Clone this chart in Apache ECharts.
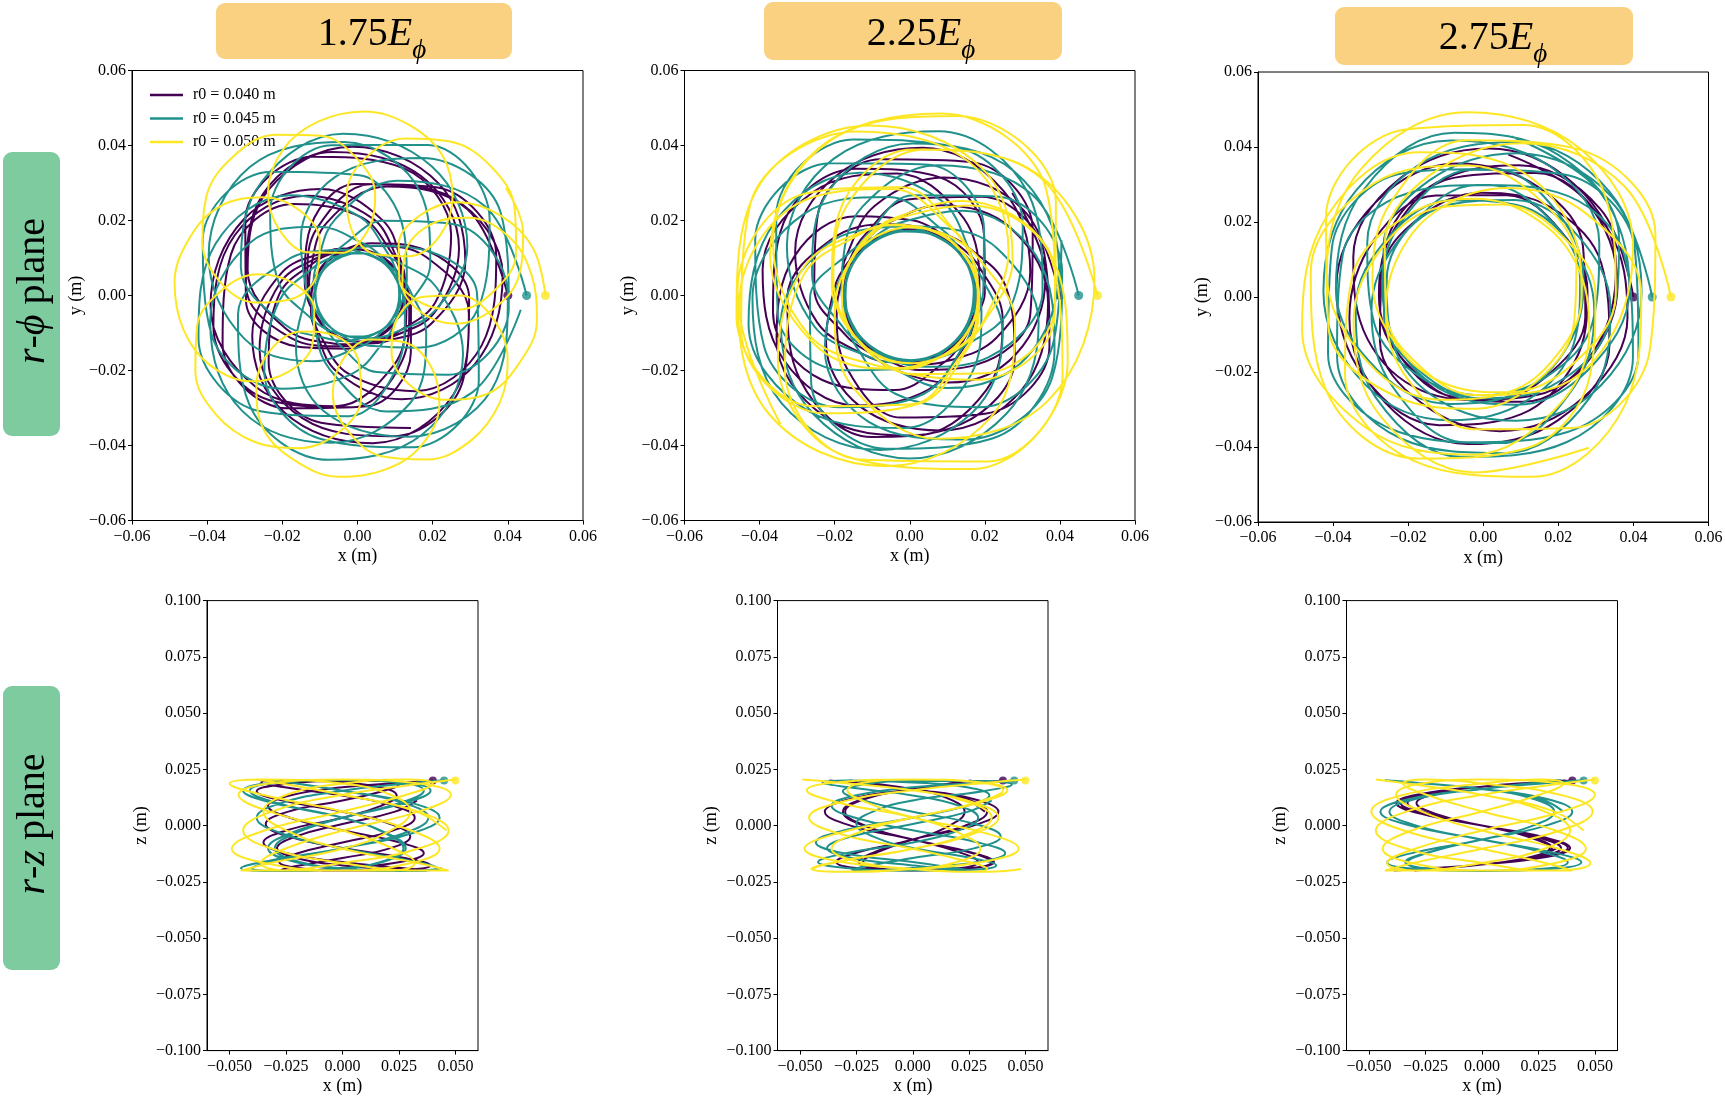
<!DOCTYPE html>
<html>
<head>
<meta charset="utf-8">
<script src="https://cdn.jsdelivr.net/npm/echarts@6.0.0/dist/echarts.min.js"></script>
<style>
  html, body { margin: 0; padding: 0; background: #fff; }
  #chart { width: 1725px; height: 1102px; }
</style>
</head>
<body>
<div id="chart"></div>
<script>
// r0 of each trajectory and its colour (viridis)
const seriesNames = ['r0 = 0.040 m', 'r0 = 0.045 m', 'r0 = 0.050 m'];
const lineColors = ['#440154', '#21918c', '#fde725'];
const fieldLabels = ['1.75', '2.25', '2.75'];
const startR = [0.040, 0.045, 0.050];
const startZ = 0.02;
const rzXTicks = [-0.05, -0.025, 0, 0.025, 0.05];

// r-phi plane, read as [r (m), phi (deg, unwrapped)] along each trajectory
const rphi175_040 = [
[.0400,0],[.0372,38],[.0300,75],[.0210,113],[.0143,151],[.0131,170],[.0123,188],[.0121,207],[.0120,226],[.0121,245],[.0123,264],[.0131,283],[.0143,301],[.0210,339],[.0300,377],[.0368,414],
[.0396,452],[.0368,490],[.0300,527],[.0210,565],[.0143,603],[.0131,622],[.0123,640],[.0121,659],[.0120,678],[.0121,697],[.0123,716],[.0131,735],[.0143,753],[.0210,791],[.0300,829],[.0364,866],
[.0392,904],[.0364,942],[.0300,979],[.0210,1017],[.0143,1055],[.0131,1074],[.0123,1092],[.0121,1111],[.0120,1130],[.0121,1149],[.0123,1168],[.0131,1187],[.0143,1205],[.0210,1243],[.0300,1281],[.0367,1318],
[.0395,1356],[.0367,1394],[.0300,1431],[.0210,1469],[.0143,1507],[.0131,1526],[.0123,1544],[.0121,1563],[.0120,1582],[.0121,1601],[.0123,1620],[.0131,1639],[.0143,1657],[.0210,1695],[.0300,1733],[.0362,1770],
[.0390,1808],[.0362,1846],[.0298,1883],[.0209,1921],[.0143,1959],[.0131,1978],[.0123,1996],[.0122,2015],[.0121,2034],[.0122,2053],[.0123,2072],[.0131,2091],[.0143,2109],[.0209,2147],[.0298,2185],[.0360,2222],
[.0388,2260],[.0360,2298],[.0298,2335],[.0209,2373],[.0143,2411],[.0131,2430],[.0123,2448],[.0122,2467],[.0121,2486],[.0122,2505],[.0123,2524],[.0131,2543],[.0143,2561],[.0209,2599],[.0298,2637],[.0364,2674],
[.0392,2712],[.0364,2750],[.0298,2787],[.0209,2825],[.0144,2863],[.0132,2882],[.0124,2900],[.0122,2919],[.0121,2938],[.0122,2957],[.0124,2976],[.0132,2995],[.0144,3013],[.0209,3051],[.0298,3089],[.0358,3126],
[.0386,3164],[.0358,3202],[.0297,3239],[.0209,3277],[.0144,3315],[.0132,3334],[.0124,3352],[.0123,3371],[.0122,3390],[.0123,3409],[.0124,3428],[.0132,3447],[.0144,3465],[.0209,3503],[.0297,3541],[.0356,3578],
[.0384,3616],[.0356,3654],[.0297,3691],[.0208,3729],[.0144,3767],[.0132,3786],[.0124,3804],[.0123,3823],[.0122,3842],[.0123,3861],[.0124,3880],[.0132,3899],[.0144,3917],[.0208,3955],[.0297,3993],[.0360,4030],
[.0388,4068],[.0360,4106],[.0297,4143],[.0208,4181],[.0144,4219],[.0132,4238],[.0124,4256],[.0123,4275],[.0122,4294],[.0123,4313],[.0124,4332],[.0132,4351],[.0144,4369],[.0208,4407],[.0297,4445],[.0354,4482],
[.0382,4520],[.0354,4558],[.0296,4595],[.0208,4633],[.0144,4671],[.0132,4690],[.0124,4708],[.0123,4727],[.0122,4746],[.0123,4765],[.0124,4784],[.0132,4803],[.0144,4821],[.0208,4859],[.0296,4897],[.0352,4934],
[.0380,4972]
];
const rphi175_045 = [
[.0450,0],[.0414,35],[.0323,71],[.0212,106],[.0137,142],[.0124,160],[.0114,177],[.0111,195],[.0110,213],[.0111,231],[.0114,248],[.0124,266],[.0137,283],[.0212,319],[.0323,354],[.0406,390],
[.0442,425],[.0406,460],[.0323,496],[.0212,531],[.0137,567],[.0124,585],[.0114,602],[.0111,620],[.0110,638],[.0111,656],[.0114,673],[.0124,691],[.0137,708],[.0212,744],[.0323,779],[.0410,815],
[.0446,850],[.0410,885],[.0322,921],[.0211,956],[.0137,992],[.0124,1010],[.0114,1027],[.0111,1045],[.0111,1063],[.0111,1081],[.0114,1098],[.0124,1116],[.0137,1133],[.0211,1169],[.0322,1204],[.0402,1240],
[.0438,1275],[.0402,1310],[.0322,1346],[.0211,1381],[.0137,1417],[.0124,1435],[.0114,1452],[.0111,1470],[.0111,1488],[.0111,1506],[.0114,1523],[.0124,1541],[.0137,1558],[.0211,1594],[.0322,1629],[.0408,1665],
[.0444,1700],[.0408,1735],[.0321,1771],[.0211,1806],[.0138,1842],[.0125,1860],[.0115,1877],[.0112,1895],[.0111,1913],[.0112,1931],[.0115,1948],[.0125,1966],[.0138,1983],[.0211,2019],[.0321,2054],[.0400,2090],
[.0436,2125],[.0400,2160],[.0321,2196],[.0210,2231],[.0138,2267],[.0125,2285],[.0115,2302],[.0112,2320],[.0112,2338],[.0112,2356],[.0115,2373],[.0125,2391],[.0138,2408],[.0210,2444],[.0321,2479],[.0404,2515],
[.0440,2550],[.0404,2585],[.0320,2621],[.0210,2656],[.0138,2692],[.0125,2710],[.0115,2727],[.0112,2745],[.0112,2763],[.0112,2781],[.0115,2798],[.0125,2816],[.0138,2833],[.0210,2869],[.0320,2904],[.0396,2940],
[.0432,2975],[.0396,3010],[.0320,3046],[.0210,3081],[.0138,3117],[.0125,3135],[.0115,3152],[.0113,3170],[.0112,3188],[.0113,3206],[.0115,3223],[.0125,3241],[.0138,3258],[.0210,3294],[.0320,3329],[.0402,3365],
[.0438,3400],[.0402,3435],[.0319,3471],[.0209,3506],[.0139,3542],[.0126,3560],[.0116,3577],[.0114,3595],[.0113,3613],[.0114,3631],[.0116,3648],[.0126,3666],[.0139,3683],[.0209,3719],[.0319,3754],[.0398,3790],
[.0434,3825],[.0398,3860],[.0319,3896],[.0209,3931],[.0139,3967],[.0126,3985],[.0116,4002],[.0114,4020],[.0113,4038],[.0114,4056],[.0116,4073],[.0126,4091],[.0139,4108],[.0209,4144],[.0319,4179],[.0394,4215],
[.0430,4250],[.0394,4285],[.0318,4321],[.0209,4356],[.0139,4392],[.0126,4410],[.0116,4427],[.0114,4445],[.0113,4463],[.0114,4481],[.0116,4498],[.0126,4516],[.0139,4533],[.0209,4569],[.0318,4604],[.0400,4640],
[.0436,4675]
];
// the outermost trajectory at 1.75 E_phi turns in small loops that do not enclose the centre
const rphi175_050 = [
[.0500,0],[.0484,15],[.0437,29],[.0364,43],[.0271,52],[.0174,51],[.0120,22],[.0174,-7],[.0271,-8],[.0364,2],[.0437,15],[.0478,29],
[.0494,44],[.0478,59],[.0437,73],[.0364,87],[.0271,96],[.0174,95],[.0120,66],[.0174,37],[.0271,36],[.0364,46],[.0437,59],[.0474,73],
[.0490,88],[.0474,103],[.0436,117],[.0363,131],[.0271,140],[.0175,139],[.0121,110],[.0175,81],[.0271,80],[.0363,90],[.0436,103],[.0480,117],
[.0496,132],[.0480,147],[.0436,161],[.0363,175],[.0271,184],[.0175,183],[.0121,154],[.0175,125],[.0271,124],[.0363,134],[.0436,147],[.0472,161],
[.0488,176],[.0472,191],[.0435,205],[.0363,219],[.0272,228],[.0175,227],[.0121,198],[.0175,169],[.0272,168],[.0363,178],[.0435,191],[.0476,205],
[.0492,220],[.0476,235],[.0435,249],[.0362,263],[.0272,272],[.0176,271],[.0122,242],[.0176,213],[.0272,212],[.0362,222],[.0435,235],[.0469,249],
[.0485,264],[.0469,279],[.0434,293],[.0362,307],[.0272,316],[.0176,315],[.0122,286],[.0176,257],[.0272,256],[.0362,266],[.0434,279],[.0474,293],
[.0490,308],[.0474,323],[.0434,337],[.0362,351],[.0272,360],[.0176,359],[.0122,330],[.0176,301],[.0272,300],[.0362,310],[.0434,323],[.0466,337],
[.0482,352],[.0466,367],[.0433,381],[.0361,395],[.0273,404],[.0177,403],[.0123,374],[.0177,345],[.0273,344],[.0361,354],[.0433,367],[.0472,381],
[.0488,396]
];
const rphi225_040 = [
[.0400,0],[.0379,37],[.0327,74],[.0257,111],[.0199,148],[.0186,167],[.0178,185],[.0176,204],[.0175,223],[.0176,242],[.0178,260],[.0186,279],[.0199,297],[.0257,334],[.0327,371],[.0374,408],
[.0395,445],[.0374,482],[.0327,519],[.0257,556],[.0199,593],[.0186,612],[.0178,630],[.0176,649],[.0175,668],[.0176,687],[.0178,705],[.0186,724],[.0199,742],[.0257,779],[.0327,816],[.0377,853],
[.0398,890],[.0377,927],[.0326,964],[.0256,1001],[.0199,1038],[.0186,1057],[.0178,1075],[.0177,1094],[.0176,1113],[.0177,1132],[.0178,1150],[.0186,1169],[.0199,1187],[.0256,1224],[.0326,1261],[.0369,1298],
[.0390,1335],[.0369,1372],[.0326,1409],[.0256,1446],[.0199,1483],[.0187,1502],[.0179,1520],[.0177,1539],[.0176,1558],[.0177,1577],[.0179,1595],[.0187,1614],[.0199,1632],[.0256,1669],[.0326,1706],[.0375,1743],
[.0396,1780],[.0375,1817],[.0325,1854],[.0256,1891],[.0200,1928],[.0187,1947],[.0179,1965],[.0178,1984],[.0177,2003],[.0178,2022],[.0179,2040],[.0187,2059],[.0200,2077],[.0256,2114],[.0325,2151],[.0371,2188],
[.0392,2225],[.0371,2262],[.0325,2299],[.0255,2336],[.0200,2373],[.0187,2392],[.0179,2410],[.0178,2429],[.0177,2448],[.0178,2467],[.0179,2485],[.0187,2504],[.0200,2522],[.0255,2559],[.0325,2596],[.0367,2633],
[.0388,2670],[.0367,2707],[.0324,2744],[.0255,2781],[.0200,2818],[.0188,2837],[.0180,2855],[.0178,2874],[.0177,2893],[.0178,2912],[.0180,2930],[.0188,2949],[.0200,2967],[.0255,3004],[.0324,3041],[.0373,3078],
[.0394,3115],[.0373,3152],[.0324,3189],[.0255,3226],[.0200,3263],[.0188,3282],[.0180,3300],[.0179,3319],[.0178,3338],[.0179,3357],[.0180,3375],[.0188,3394],[.0200,3412],[.0255,3449],[.0324,3486],[.0369,3523],
[.0390,3560],[.0369,3597],[.0323,3634],[.0254,3671],[.0201,3708],[.0188,3727],[.0180,3745],[.0179,3764],[.0178,3783],[.0179,3802],[.0180,3820],[.0188,3839],[.0201,3857],[.0254,3894],[.0323,3931],[.0365,3968],
[.0386,4005]
];
const rphi225_045 = [
[.0450,0],[.0423,39],[.0355,78],[.0268,118],[.0195,157],[.0182,177],[.0173,196],[.0171,216],[.0170,235],[.0171,255],[.0173,274],[.0182,294],[.0195,313],[.0268,352],[.0355,392],[.0415,431],
[.0442,470],[.0415,509],[.0355,548],[.0268,588],[.0195,627],[.0182,647],[.0173,666],[.0171,686],[.0170,705],[.0171,725],[.0173,744],[.0182,764],[.0195,783],[.0268,822],[.0355,862],[.0419,901],
[.0446,940],[.0419,979],[.0354,1018],[.0267,1058],[.0195,1097],[.0182,1117],[.0173,1136],[.0172,1156],[.0171,1175],[.0172,1195],[.0173,1214],[.0182,1234],[.0195,1253],[.0267,1292],[.0354,1332],[.0411,1371],
[.0438,1410],[.0411,1449],[.0354,1488],[.0267,1528],[.0195,1567],[.0183,1587],[.0174,1606],[.0172,1626],[.0171,1645],[.0172,1665],[.0174,1684],[.0183,1704],[.0195,1723],[.0267,1762],[.0354,1802],[.0417,1841],
[.0444,1880],[.0417,1919],[.0353,1958],[.0267,1998],[.0196,2037],[.0183,2057],[.0174,2076],[.0172,2096],[.0171,2115],[.0172,2135],[.0174,2154],[.0183,2174],[.0196,2193],[.0267,2232],[.0353,2272],[.0409,2311],
[.0436,2350],[.0409,2389],[.0353,2428],[.0266,2468],[.0196,2507],[.0183,2527],[.0174,2546],[.0173,2566],[.0172,2585],[.0173,2605],[.0174,2624],[.0183,2644],[.0196,2663],[.0266,2702],[.0353,2742],[.0413,2781],
[.0440,2820],[.0413,2859],[.0352,2898],[.0266,2938],[.0196,2977],[.0184,2997],[.0175,3016],[.0173,3036],[.0172,3055],[.0173,3075],[.0175,3094],[.0184,3114],[.0196,3133],[.0266,3172],[.0352,3212],[.0405,3251],
[.0432,3290],[.0405,3329],[.0352,3368],[.0266,3408],[.0196,3447],[.0184,3467],[.0175,3486],[.0173,3506],[.0172,3525],[.0173,3545],[.0175,3564],[.0184,3584],[.0196,3603],[.0266,3642],[.0352,3682],[.0411,3721],
[.0438,3760],[.0411,3799],[.0351,3838],[.0265,3878],[.0197,3917],[.0184,3937],[.0175,3956],[.0174,3976],[.0173,3995],[.0174,4015],[.0175,4034],[.0184,4054],[.0197,4073],[.0265,4112],[.0351,4152],[.0407,4191],
[.0434,4230],[.0407,4269],[.0351,4308],[.0265,4348],[.0197,4387],[.0184,4407],[.0175,4426],[.0174,4446],[.0173,4465],[.0174,4485],[.0175,4504],[.0184,4524],[.0197,4543],[.0265,4582],[.0351,4622],[.0403,4661],
[.0430,4700]
];
const rphi225_050 = [
[.0500,0],[.0469,42],[.0391,84],[.0290,126],[.0208,168],[.0193,189],[.0183,210],[.0181,231],[.0180,253],[.0181,274],[.0183,295],[.0193,316],[.0208,337],[.0290,379],[.0391,421],[.0465,463],
[.0496,505],[.0465,547],[.0391,589],[.0290,631],[.0208,673],[.0193,694],[.0183,715],[.0181,736],[.0180,758],[.0181,779],[.0183,800],[.0193,821],[.0208,842],[.0290,884],[.0391,926],[.0461,968],
[.0492,1010],[.0461,1052],[.0390,1094],[.0289,1136],[.0208,1178],[.0193,1199],[.0183,1220],[.0182,1241],[.0181,1263],[.0182,1284],[.0183,1305],[.0193,1326],[.0208,1347],[.0289,1389],[.0390,1431],[.0464,1473],
[.0495,1515],[.0464,1557],[.0390,1599],[.0289,1641],[.0208,1683],[.0194,1704],[.0184,1725],[.0182,1746],[.0181,1768],[.0182,1789],[.0184,1810],[.0194,1831],[.0208,1852],[.0289,1894],[.0390,1936],[.0459,1978],
[.0490,2020],[.0459,2062],[.0389,2104],[.0289,2146],[.0209,2188],[.0194,2209],[.0184,2230],[.0182,2251],[.0181,2273],[.0182,2294],[.0184,2315],[.0194,2336],[.0209,2357],[.0289,2399],[.0389,2441],[.0463,2483],
[.0494,2525],[.0463,2567],[.0389,2609],[.0288,2651],[.0209,2693],[.0194,2714],[.0184,2735],[.0183,2756],[.0182,2778],[.0183,2799],[.0184,2820],[.0194,2841],[.0209,2862],[.0288,2904],[.0389,2946],[.0459,2988],
[.0490,3030],[.0459,3072],[.0388,3114],[.0288,3156],[.0209,3198],[.0195,3219],[.0185,3240],[.0183,3261],[.0182,3283],[.0183,3304],[.0185,3325],[.0195,3346],[.0209,3367],[.0288,3409],[.0388,3451],[.0457,3493],
[.0488,3535],[.0457,3577],[.0388,3619],[.0288,3661],[.0209,3703],[.0195,3724],[.0185,3745],[.0183,3766],[.0182,3788],[.0183,3809],[.0185,3830],[.0195,3851],[.0209,3872],[.0288,3914],[.0388,3956],[.0461,3998],
[.0492,4040],[.0461,4082],[.0387,4124],[.0287,4166],[.0210,4208],[.0195,4229],[.0185,4250],[.0184,4271],[.0183,4293],[.0184,4314],[.0185,4335],[.0195,4356],[.0210,4377],[.0287,4419],[.0387,4461],[.0455,4503],
[.0486,4545]
];
const rphi275_040 = [
[.0400,0],[.0390,37],[.0363,75],[.0329,112],[.0298,149],[.0277,187],[.0270,224],[.0277,261],[.0298,299],[.0329,336],[.0363,373],[.0386,411],
[.0396,448],[.0386,485],[.0362,523],[.0328,560],[.0298,597],[.0277,635],[.0270,672],[.0277,709],[.0298,747],[.0328,784],[.0362,821],[.0382,859],
[.0392,896],[.0382,933],[.0361,971],[.0328,1008],[.0298,1045],[.0278,1083],[.0271,1120],[.0278,1157],[.0298,1195],[.0328,1232],[.0361,1269],[.0384,1307],
[.0394,1344],[.0384,1381],[.0360,1419],[.0327,1456],[.0299,1493],[.0278,1531],[.0271,1568],[.0278,1605],[.0299,1643],[.0327,1680],[.0360,1717],[.0378,1755],
[.0388,1792],[.0378,1829],[.0359,1867],[.0327,1904],[.0299,1941],[.0278,1979],[.0272,2016],[.0278,2053],[.0299,2091],[.0327,2128],[.0359,2165],[.0375,2203],
[.0385,2240]
];
const rphi275_045 = [
[.0450,0],[.0434,38],[.0393,77],[.0342,115],[.0298,153],[.0270,192],[.0260,230],[.0270,268],[.0298,307],[.0342,345],[.0393,383],[.0428,422],
[.0444,460],[.0428,498],[.0393,537],[.0342,575],[.0298,613],[.0270,652],[.0260,690],[.0270,728],[.0298,767],[.0342,805],[.0393,843],[.0424,882],
[.0440,920],[.0424,958],[.0392,997],[.0341,1035],[.0298,1073],[.0271,1112],[.0261,1150],[.0271,1188],[.0298,1227],[.0341,1265],[.0392,1303],[.0430,1342],
[.0446,1380],[.0430,1418],[.0392,1457],[.0341,1495],[.0299,1533],[.0271,1572],[.0261,1610],[.0271,1648],[.0299,1687],[.0341,1725],[.0392,1763],[.0422,1802],
[.0438,1840],[.0422,1878],[.0391,1917],[.0341,1955],[.0299,1993],[.0271,2032],[.0262,2070],[.0271,2108],[.0299,2147],[.0341,2185],[.0391,2223],[.0426,2262],
[.0442,2300],[.0426,2338],[.0391,2377],[.0340,2415],[.0299,2453],[.0272,2492],[.0262,2530],[.0272,2568],[.0299,2607],[.0340,2645],[.0391,2683],[.0420,2722],
[.0436,2760],[.0420,2798],[.0390,2837],[.0340,2875],[.0300,2913],[.0272,2952],[.0262,2990],[.0272,3028],[.0300,3067],[.0340,3105],[.0390,3143],[.0424,3182],
[.0440,3220],[.0424,3258],[.0390,3297],[.0340,3335],[.0300,3373],[.0272,3412],[.0263,3450],[.0272,3488],[.0300,3527],[.0340,3565],[.0390,3603],[.0418,3642],
[.0434,3680]
];
const rphi275_050 = [
[.0500,0],[.0478,38],[.0422,76],[.0354,114],[.0297,152],[.0262,190],[.0250,228],[.0262,265],[.0297,303],[.0354,341],[.0422,379],[.0472,417],
[.0494,455],[.0472,493],[.0422,531],[.0354,569],[.0297,607],[.0262,645],[.0250,683],[.0262,720],[.0297,758],[.0354,796],[.0422,834],[.0468,872],
[.0490,910],[.0468,948],[.0421,986],[.0353,1024],[.0297,1062],[.0263,1100],[.0251,1138],[.0263,1175],[.0297,1213],[.0353,1251],[.0421,1289],[.0474,1327],
[.0496,1365],[.0474,1403],[.0421,1441],[.0353,1479],[.0298,1517],[.0263,1555],[.0251,1593],[.0263,1630],[.0298,1668],[.0353,1706],[.0421,1744],[.0466,1782],
[.0488,1820],[.0466,1858],[.0420,1896],[.0353,1934],[.0298,1972],[.0263,2010],[.0252,2048],[.0263,2085],[.0298,2123],[.0353,2161],[.0420,2199],[.0470,2237],
[.0492,2275],[.0470,2313],[.0420,2351],[.0352,2389],[.0298,2427],[.0264,2465],[.0252,2503],[.0264,2540],[.0298,2578],[.0352,2616],[.0420,2654],[.0464,2692],
[.0486,2730],[.0464,2768],[.0419,2806],[.0352,2844],[.0299,2882],[.0264,2920],[.0252,2958],[.0264,2995],[.0299,3033],[.0352,3071],[.0419,3109],[.0468,3147],
[.0490,3185]
];

// r-z plane, read as [x (m), z (m)]
const rz175_040 = [
[.0400,.0200],[.0283,.0192],[0,.0170],[-.0233,.0134],[-.0330,.0088],[-.0233,.0035],[0,-.0021],[.0255,-.0075],
[.0360,-.0123],[.0255,-.0162],[0,-.0188],[-.0191,-.0200],[-.0270,-.0196],[-.0191,-.0177],[0,-.0144],[.0212,-.0100],
[.0300,-.0048],[.0212,.0007],[0,.0062],[-.0269,.0112],[-.0380,.0153],[-.0269,.0183],[0,.0198],[.0177,.0198],
[.0250,.0183],[.0177,.0153],[0,.0112],[-.0240,.0062],[-.0340,.0007],[-.0240,-.0048],[0,-.0100],[.0276,-.0144],
[.0390,-.0177],[.0276,-.0196],[0,-.0200],[-.0198,-.0188],[-.0280,-.0162],[-.0198,-.0123],[0,-.0075],[.0226,-.0021],
[.0320,.0035],[.0226,.0088],[0,.0134],[-.0255,.0170],[-.0360,.0192],[-.0255,.0200],[0,.0192],[.0170,.0170],
[.0240,.0134],[.0170,.0088],[0,.0035],[-.0247,-.0021],[-.0350,-.0075],[-.0247,-.0123],[0,-.0162],[.0262,-.0188],
[.0370,-.0200],[.0262,-.0196],[0,-.0177],[-.0205,-.0144],[-.0290,-.0100],[-.0205,-.0048],[0,.0007],[.0233,.0062],
[.0330,.0112]
];
const rz175_045 = [
[.0450,.0202],[.0318,.0190],[0,.0155],[-.0269,.0101],[-.0380,.0035],[-.0269,-.0035],[0,-.0101],[.0297,-.0155],
[.0420,-.0190],[.0297,-.0202],[0,-.0190],[-.0212,-.0155],[-.0300,-.0101],[-.0212,-.0035],[0,.0035],[.0255,.0101],
[.0360,.0155],[.0255,.0190],[0,.0202],[-.0311,.0190],[-.0440,.0155],[-.0311,.0101],[0,.0035],[.0198,-.0035],
[.0280,-.0101],[.0198,-.0155],[0,-.0190],[-.0283,-.0202],[-.0400,-.0190],[-.0283,-.0155],[0,-.0101],[.0304,-.0035],
[.0430,.0035],[.0304,.0101],[0,.0155],[-.0226,.0190],[-.0320,.0202],[-.0226,.0190],[0,.0155],[.0269,.0101],
[.0380,.0035],[.0269,-.0035],[0,-.0101],[-.0318,-.0155],[-.0450,-.0190],[-.0318,-.0202],[0,-.0190],[.0191,-.0155],
[.0270,-.0101],[.0191,-.0035],[0,.0035],[-.0290,.0101],[-.0410,.0155],[-.0290,.0190],[0,.0202],[.0276,.0190],
[.0390,.0155],[.0276,.0101],[0,.0035],[-.0233,-.0035],[-.0330,-.0101],[-.0233,-.0155],[0,-.0190],[.0311,-.0202],
[.0440,-.0190]
];
const rz175_050 = [
[.0500,.0205],[.0354,.0187],[0,.0137],[-.0311,.0063],[-.0440,-.0022],[-.0311,-.0103],[0,-.0166],[.0332,-.0200],
[.0470,-.0200],[.0332,-.0166],[0,-.0103],[-.0247,-.0022],[-.0350,.0063],[-.0247,.0137],[0,.0187],[.0283,.0205],
[.0400,.0187],[.0283,.0137],[0,.0063],[-.0346,-.0022],[-.0490,-.0103],[-.0346,-.0166],[0,-.0200],[.0226,-.0200],
[.0320,-.0166],[.0226,-.0103],[0,-.0022],[-.0325,.0063],[-.0460,.0137],[-.0325,.0187],[0,.0205],[.0339,.0187],
[.0480,.0137],[.0339,.0063],[0,-.0022],[-.0255,-.0103],[-.0360,-.0166],[-.0255,-.0200],[0,-.0200],[.0304,-.0166],
[.0430,-.0103],[.0304,-.0022],[0,.0063],[-.0354,.0137],[-.0500,.0187],[-.0354,.0205],[0,.0187],[.0212,.0137],
[.0300,.0063],[.0212,-.0022],[0,-.0103],[-.0318,-.0166],[-.0450,-.0200],[-.0318,-.0200],[0,-.0166],[.0332,-.0103],
[.0470,-.0022],[.0332,.0063],[0,.0137],[-.0269,.0187],[-.0380,.0205],[-.0269,.0187],[0,.0137],[.0325,.0063],
[.0460,-.0022]
];
const rz225_040 = [
[.0400,.0200],[.0283,.0190],[0,.0162],[-.0212,.0118],[-.0300,.0062],[-.0212,0],[0,-.0062],[.0247,-.0118],
[.0350,-.0162],[.0247,-.0190],[0,-.0200],[-.0170,-.0190],[-.0240,-.0162],[-.0170,-.0118],[0,-.0062],[.0269,0],
[.0380,.0062],[.0269,.0118],[0,.0162],[-.0198,.0190],[-.0280,.0200],[-.0198,.0190],[0,.0162],[.0233,.0118],
[.0330,.0062],[.0233,0],[0,-.0062],[-.0156,-.0118],[-.0220,-.0162],[-.0156,-.0190],[0,-.0200],[.0255,-.0190],
[.0360,-.0162],[.0255,-.0118],[0,-.0062],[-.0219,0],[-.0310,.0062],[-.0219,.0118],[0,.0162],[.0184,.0190],
[.0260,.0200],[.0184,.0190],[0,.0162],[-.0276,.0118],[-.0390,.0062],[-.0276,0],[0,-.0062],[.0205,-.0118],
[.0290,-.0162],[.0205,-.0190],[0,-.0200],[-.0240,-.0190],[-.0340,-.0162],[-.0240,-.0118],[0,-.0062],[.0163,0],
[.0230,.0062],[.0163,.0118],[0,.0162],[-.0262,.0190],[-.0370,.0200],[-.0262,.0190],[0,.0162],[.0226,.0118],
[.0320,.0062]
];
const rz225_045 = [
[.0450,.0200],[.0318,.0192],[0,.0170],[-.0255,.0134],[-.0360,.0088],[-.0255,.0035],[0,-.0021],[.0290,-.0075],
[.0410,-.0123],[.0290,-.0162],[0,-.0188],[-.0191,-.0200],[-.0270,-.0196],[-.0191,-.0177],[0,-.0144],[.0276,-.0100],
[.0390,-.0048],[.0276,.0007],[0,.0062],[-.0219,.0112],[-.0310,.0153],[-.0219,.0183],[0,.0198],[.0311,.0198],
[.0440,.0183],[.0311,.0153],[0,.0112],[-.0177,.0062],[-.0250,.0007],[-.0177,-.0048],[0,-.0100],[.0262,-.0144],
[.0370,-.0177],[.0262,-.0196],[0,-.0200],[-.0297,-.0188],[-.0420,-.0162],[-.0297,-.0123],[0,-.0075],[.0205,-.0021],
[.0290,.0035],[.0205,.0088],[0,.0134],[-.0283,.0170],[-.0400,.0192],[-.0283,.0200],[0,.0192],[.0240,.0170],
[.0340,.0134],[.0240,.0088],[0,.0035],[-.0304,-.0021],[-.0430,-.0075],[-.0304,-.0123],[0,-.0162],[.0184,-.0188],
[.0260,-.0200],[.0184,-.0196],[0,-.0177],[-.0269,-.0144],[-.0380,-.0100],[-.0269,-.0048],[0,.0007],[.0247,.0062],
[.0350,.0112]
];
const rz225_050 = [
[.0500,.0205],[.0354,.0193],[0,.0157],[-.0325,.0103],[-.0460,.0036],[-.0325,-.0036],[0,-.0103],[.0233,-.0157],
[.0330,-.0193],[.0233,-.0205],[0,-.0193],[-.0339,-.0157],[-.0480,-.0103],[-.0339,-.0036],[0,.0036],[.0283,.0103],
[.0400,.0157],[.0283,.0193],[0,.0205],[-.0205,.0193],[-.0290,.0157],[-.0205,.0103],[0,.0036],[.0332,-.0036],
[.0470,-.0103],[.0332,-.0157],[0,-.0193],[-.0311,-.0205],[-.0440,-.0193],[-.0311,-.0157],[0,-.0103],[.0247,-.0036],
[.0350,.0036],[.0247,.0103],[0,.0157],[-.0346,.0193],[-.0490,.0205],[-.0346,.0193],[0,.0157],[.0269,.0103],
[.0380,.0036],[.0269,-.0036],[0,-.0103],[-.0318,-.0157],[-.0450,-.0193],[-.0318,-.0205],[0,-.0193],[.0212,-.0157],
[.0300,-.0103],[.0212,-.0036],[0,.0036],[-.0332,.0103],[-.0470,.0157],[-.0332,.0193],[0,.0205],[.0297,.0193],
[.0420,.0157],[.0297,.0103],[0,.0036],[-.0255,-.0036],[-.0360,-.0103],[-.0255,-.0157],[0,-.0193],[.0339,-.0205],
[.0480,-.0193]
];
const rz275_040 = [
[.0400,.0200],[.0283,.0193],[0,.0173],[-.0255,.0141],[-.0360,.0100],[-.0255,.0052],[0,0],[.0269,-.0052],
[.0380,-.0100],[.0269,-.0141],[0,-.0173],[-.0212,-.0193],[-.0300,-.0200],[-.0212,-.0193],[0,-.0173],[.0276,-.0141],
[.0390,-.0100],[.0276,-.0052],[0,0],[-.0233,.0052],[-.0330,.0100],[-.0233,.0141],[0,.0173],[.0262,.0193],
[.0370,.0200],[.0262,.0193],[0,.0173],[-.0205,.0141],[-.0290,.0100],[-.0205,.0052],[0,0],[.0247,-.0052],
[.0350,-.0100],[.0247,-.0141],[0,-.0173],[-.0276,-.0193],[-.0390,-.0200],[-.0276,-.0193],[0,-.0173],[.0219,-.0141],
[.0310,-.0100],[.0219,-.0052],[0,0],[-.0269,.0052],[-.0380,.0100],[-.0269,.0141],[0,.0173],[.0240,.0193],
[.0340,.0200],[.0240,.0193],[0,.0173],[-.0255,.0141],[-.0360,.0100],[-.0255,.0052],[0,0],[.0212,-.0052],
[.0300,-.0100],[.0212,-.0141],[0,-.0173],[-.0276,-.0193],[-.0390,-.0200],[-.0276,-.0193],[0,-.0173],[.0233,-.0141],
[.0330,-.0100]
];
const rz275_045 = [
[.0450,.0202],[.0318,.0192],[0,.0163],[-.0290,.0119],[-.0410,.0062],[-.0290,0],[0,-.0062],[.0311,-.0119],
[.0440,-.0163],[.0311,-.0192],[0,-.0202],[-.0240,-.0192],[-.0340,-.0163],[-.0240,-.0119],[0,-.0062],[.0283,0],
[.0400,.0062],[.0283,.0119],[0,.0163],[-.0304,.0192],[-.0430,.0202],[-.0304,.0192],[0,.0163],[.0226,.0119],
[.0320,.0062],[.0226,0],[0,-.0062],[-.0297,-.0119],[-.0420,-.0163],[-.0297,-.0192],[0,-.0202],[.0269,-.0192],
[.0380,-.0163],[.0269,-.0119],[0,-.0062],[-.0318,0],[-.0450,.0062],[-.0318,.0119],[0,.0163],[.0247,.0192],
[.0350,.0202],[.0247,.0192],[0,.0163],[-.0290,.0119],[-.0410,.0062],[-.0290,0],[0,-.0062],[.0311,-.0119],
[.0440,-.0163],[.0311,-.0192],[0,-.0202],[-.0233,-.0192],[-.0330,-.0163],[-.0233,-.0119],[0,-.0062],[.0283,0],
[.0400,.0062],[.0283,.0119],[0,.0163],[-.0304,.0192],[-.0430,.0202],[-.0304,.0192],[0,.0163],[.0255,.0119],
[.0360,.0062]
];
const rz275_050 = [
[.0500,.0205],[.0354,.0187],[0,.0137],[-.0332,.0063],[-.0470,-.0022],[-.0332,-.0103],[0,-.0166],[.0283,-.0200],
[.0400,-.0200],[.0283,-.0166],[0,-.0103],[-.0346,-.0022],[-.0490,.0063],[-.0346,.0137],[0,.0187],[.0255,.0205],
[.0360,.0187],[.0255,.0137],[0,.0063],[-.0311,-.0022],[-.0440,-.0103],[-.0311,-.0166],[0,-.0200],[.0339,-.0200],
[.0480,-.0166],[.0339,-.0103],[0,-.0022],[-.0269,.0063],[-.0380,.0137],[-.0269,.0187],[0,.0205],[.0354,.0187],
[.0500,.0137],[.0354,.0063],[0,-.0022],[-.0297,-.0103],[-.0420,-.0166],[-.0297,-.0200],[0,-.0200],[.0325,-.0166],
[.0460,-.0103],[.0325,-.0022],[0,.0063],[-.0247,.0137],[-.0350,.0187],[-.0247,.0205],[0,.0187],[.0346,.0137],
[.0490,.0063],[.0346,-.0022],[0,-.0103],[-.0304,-.0166],[-.0430,-.0200],[-.0304,-.0200],[0,-.0166],[.0276,-.0103],
[.0390,-.0022],[.0276,.0063],[0,.0137],[-.0332,.0187],[-.0470,.0205],[-.0332,.0187],[0,.0137],[.0318,.0063],
[.0450,-.0022]
];

const rphiData = [
  [rphi175_040, rphi175_045, rphi175_050],
  [rphi225_040, rphi225_045, rphi225_050],
  [rphi275_040, rphi275_045, rphi275_050]
];
const rzData = [
  [rz175_040, rz175_045, rz175_050],
  [rz225_040, rz225_045, rz225_050],
  [rz275_040, rz275_045, rz275_050]
];

// layout of the six axes boxes (px)
const topBoxes = [
  { left: 132, top: 70.5, width: 451, height: 450 },
  { left: 684.5, top: 70.5, width: 450.5, height: 450 },
  { left: 1258, top: 72, width: 450.5, height: 450 }
];
const bottomBoxes = [
  { left: 207, top: 600.6, width: 271, height: 450 },
  { left: 777.5, top: 600.6, width: 270.5, height: 450 },
  { left: 1346.5, top: 600.6, width: 271, height: 450 }
];

const SERIF = "'Liberation Serif', 'Times New Roman', serif";
const fmt = d => v => (Math.abs(v) < 1e-9 ? 0 : v).toFixed(d).replace('-', '\u2212');

function makeAxis(gridIndex, min, max, opts) {
  return Object.assign({
    gridIndex: gridIndex, type: 'value', min: min, max: max,
    nameLocation: 'middle',
    nameTextStyle: { fontFamily: SERIF, fontSize: 18, color: '#000' },
    axisLine: { onZero: false, lineStyle: { color: '#000', width: 1 } },
    axisTick: { length: 4, lineStyle: { color: '#000' } },
    splitLine: { show: false },
    axisLabel: { fontFamily: SERIF, fontSize: 16, color: '#000' }
  }, opts);
}

const grids = [], xAxes = [], yAxes = [], polars = [], angleAxes = [], radiusAxes = [], series = [];

topBoxes.forEach((b, i) => {
  grids.push(Object.assign({ show: true, borderColor: '#000', borderWidth: 1, outerBoundsMode: 'none', containLabel: false }, b));
  xAxes.push(makeAxis(i, -0.06, 0.06, {
    interval: 0.02, name: 'x (m)', nameGap: 27,
    axisLabel: { formatter: fmt(2), margin: 8, fontFamily: SERIF, fontSize: 16, color: '#000' }
  }));
  yAxes.push(makeAxis(i, -0.06, 0.06, {
    interval: 0.02, name: 'y (m)', nameGap: 46, nameRotate: 90,
    axisLabel: { formatter: fmt(2), margin: 6, fontFamily: SERIF, fontSize: 16, color: '#000' }
  }));
  // hidden polar frame on the same box, so the (r, phi) readings land on the x-y axes
  polars.push({ center: [b.left + b.width / 2, b.top + b.height / 2], radius: [0, b.width / 2] });
  angleAxes.push({ polarIndex: i, type: 'value', min: 0, max: 360, startAngle: 0, clockwise: false, show: false });
  radiusAxes.push({ polarIndex: i, type: 'value', min: 0, max: 0.06, show: false });
});
bottomBoxes.forEach((b, i) => {
  grids.push(Object.assign({ show: true, borderColor: '#000', borderWidth: 1, outerBoundsMode: 'none', containLabel: false }, b));
  xAxes.push(makeAxis(3 + i, -0.06, 0.06, {
    name: 'x (m)', nameGap: 27,
    axisTick: { length: 4, lineStyle: { color: '#000' }, customValues: rzXTicks },
    axisLabel: { customValues: rzXTicks, formatter: fmt(3), margin: 8, fontFamily: SERIF, fontSize: 16, color: '#000' }
  }));
  yAxes.push(makeAxis(3 + i, -0.1, 0.1, {
    interval: 0.025, name: 'z (m)', nameGap: 57, nameRotate: 90,
    axisLabel: { formatter: fmt(3), margin: 6, fontFamily: SERIF, fontSize: 16, color: '#000' }
  }));
});

for (let p = 0; p < 3; p++) {
  for (let c = 0; c < 3; c++) {
    series.push({
      type: 'line', name: seriesNames[c], coordinateSystem: 'polar', polarIndex: p,
      data: rphiData[p][c], symbol: 'none', smooth: 0.38, z: 2 + c,
      lineStyle: { color: lineColors[c], width: 2 }, itemStyle: { color: lineColors[c] }
    });
    series.push({
      type: 'scatter', name: seriesNames[c], xAxisIndex: p, yAxisIndex: p,
      data: [[startR[c], 0]], symbolSize: 9, z: 2 + c, itemStyle: { color: lineColors[c] }
    });
    series.push({
      type: 'line', name: seriesNames[c], xAxisIndex: 3 + p, yAxisIndex: 3 + p,
      data: rzData[p][c], symbol: 'none', smooth: 0.45, z: 2 + c,
      lineStyle: { color: lineColors[c], width: 2 }, itemStyle: { color: lineColors[c] }
    });
    series.push({
      type: 'scatter', name: seriesNames[c], xAxisIndex: 3 + p, yAxisIndex: 3 + p,
      data: [[startR[c], startZ]], symbolSize: 8, z: 2 + c, itemStyle: { color: lineColors[c] }
    });
  }
}

// title boxes and row labels
const titleBoxes = [
  { x: 216, y: 3, w: 296, h: 56, tx: 372, ty: 34 },
  { x: 764, y: 2, w: 298, h: 58, tx: 921, ty: 34 },
  { x: 1335, y: 7, w: 298, h: 58, tx: 1493, ty: 38 }
];
const rowBoxes = [
  { x: 3, y: 152, w: 57, h: 284, text: '{i|r}{n|-}{i|\u03d5}{n| plane}', cy: 291 },
  { x: 3, y: 686, w: 57, h: 284, text: '{i|r}{n|-}{i|z}{n| plane}', cy: 824 }
];
const titleRich = {
  n: { fontFamily: SERIF, fontSize: 40, lineHeight: 60, verticalAlign: 'middle', fill: '#000' },
  e: { fontFamily: SERIF, fontSize: 40, fontStyle: 'italic', lineHeight: 60, verticalAlign: 'middle', fill: '#000' },
  s: { fontFamily: SERIF, fontSize: 27, fontStyle: 'italic', lineHeight: 28, verticalAlign: 'bottom', fill: '#000' }
};
const graphic = [];
titleBoxes.forEach((b, i) => {
  graphic.push({ type: 'rect', shape: { x: b.x, y: b.y, width: b.w, height: b.h, r: 9 }, style: { fill: '#f9d180' } });
  graphic.push({
    type: 'text', x: b.tx, y: b.ty,
    style: { text: '{n|' + fieldLabels[i] + '}{e|E}{s|\u03d5}', rich: titleRich, align: 'center', verticalAlign: 'middle' }
  });
});
rowBoxes.forEach(b => {
  graphic.push({ type: 'rect', shape: { x: b.x, y: b.y, width: b.w, height: b.h, r: 9 }, style: { fill: '#7fcba0' } });
  graphic.push({
    type: 'text', x: 33, y: b.cy, rotation: Math.PI / 2,
    style: {
      text: b.text, align: 'center', verticalAlign: 'middle',
      rich: {
        i: { fontFamily: SERIF, fontSize: 40, fontStyle: 'italic', fill: '#000' },
        n: { fontFamily: SERIF, fontSize: 40, fill: '#000' }
      }
    }
  });
});

const chart = echarts.init(document.getElementById('chart'), null, { renderer: 'canvas' });
chart.setOption({
  animation: false,
  backgroundColor: '#fff',
  grid: grids,
  xAxis: xAxes,
  yAxis: yAxes,
  polar: polars,
  angleAxis: angleAxes,
  radiusAxis: radiusAxes,
  legend: {
    data: seriesNames, orient: 'vertical', left: 145, top: 82,
    icon: 'rect', itemWidth: 33, itemHeight: 2.5, itemGap: 7.5, selectedMode: false,
    textStyle: { fontFamily: SERIF, fontSize: 16, lineHeight: 15, color: '#000', padding: [0, 0, 0, 5] }
  },
  graphic: graphic,
  series: series
});
</script>
</body>
</html>
